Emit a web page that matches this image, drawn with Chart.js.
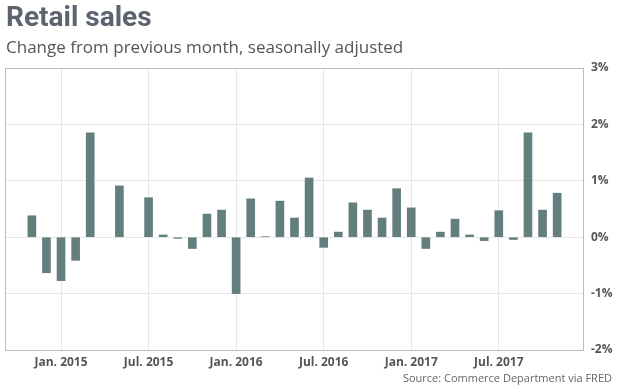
<!DOCTYPE html>
<html>
<head>
<meta charset="utf-8">
<script src="https://cdn.jsdelivr.net/npm/chart.js"></script>
<style>
  body { margin: 0; background: #fff; }
  #wrap { position: relative; width: 618px; height: 387px; overflow: hidden; }
  #chart { position: absolute; left: 0; top: 0; }
  .txt { position: absolute; white-space: nowrap; }
  #title { left: 6px; top: 0px; font: bold 28px Roboto, sans-serif; color: #5d6470; }
  #subtitle { left: 6px; top: 35px; font: 17px 'Open Sans', sans-serif; color: #555; }
  #source { right: 6px; top: 370px; font: 11px 'Open Sans', sans-serif; color: #666; }
</style>
</head>
<body>
<div id="wrap">
  <canvas id="chart" width="618" height="387"></canvas>
  <div class="txt" id="title">Retail sales</div>
  <div class="txt" id="subtitle">Change from previous month, seasonally adjusted</div>
  <div class="txt" id="source">Source: Commerce Department via FRED</div>
</div>
<script>
// mois (année-mois) et variation mensuelle en % (null = pas de barre visible)
const months = [
  '2014-11', '2014-12',
  '2015-01', '2015-02', '2015-03', '2015-04', '2015-05', '2015-06',
  '2015-07', '2015-08', '2015-09', '2015-10', '2015-11', '2015-12',
  '2016-01', '2016-02', '2016-03', '2016-04', '2016-05', '2016-06',
  '2016-07', '2016-08', '2016-09', '2016-10', '2016-11', '2016-12',
  '2017-01', '2017-02', '2017-03', '2017-04', '2017-05', '2017-06',
  '2017-07', '2017-08', '2017-09', '2017-10', '2017-11'
];
const changes = [
  0.38, -0.63,
  -0.77, -0.41, 1.85, null, 0.91, null,
  0.70, 0.04, -0.02, -0.20, 0.41, 0.48,
  -1.00, 0.68, 0.01, 0.64, 0.34, 1.05,
  -0.18, 0.09, 0.61, 0.48, 0.34, 0.86,
  0.52, -0.20, 0.09, 0.32, 0.04, -0.06,
  0.47, -0.04, 1.85, 0.48, 0.78
];
const xTickMonths = ['2015-01', '2015-07', '2016-01', '2016-07', '2017-01', '2017-07'];
const xTickLabels = ['Jan. 2015', 'Jul. 2015', 'Jan. 2016', 'Jul. 2016', 'Jan. 2017', 'Jul. 2017'];
const yTicks = [-2, -1, 0, 1, 2, 3];

// index du mois, janvier 2015 = 0
function monthIndex(s) {
  const [y, m] = s.split('-').map(Number);
  return (y - 2015) * 12 + (m - 1);
}
const xTickIdx = xTickMonths.map(monthIndex);

// cadre gris autour de la zone du graphique
const frame = {
  id: 'frame',
  afterDraw(chart) {
    const a = chart.chartArea, ctx = chart.ctx;
    ctx.save();
    ctx.strokeStyle = '#bcbcbc';
    ctx.lineWidth = 1;
    ctx.strokeRect(Math.round(a.left) + 0.5, Math.round(a.top) + 0.5,
      Math.round(a.right - a.left) - 1, Math.round(a.bottom - a.top));
    ctx.restore();
  }
};

const tickFont = { family: "'Open Sans', sans-serif", size: 12, weight: 'bold' };

new Chart(document.getElementById('chart'), {
  type: 'bar',
  data: {
    datasets: [{
      data: months.map((m, i) => ({ x: monthIndex(m), y: changes[i] })),
      backgroundColor: '#627f7e',
      barThickness: 8
    }]
  },
  options: {
    responsive: false,
    animation: false,
    layout: { padding: { top: 68, left: 5, right: 0, bottom: 0 } },
    plugins: { legend: { display: false }, tooltip: { enabled: false } },
    scales: {
      x: {
        type: 'linear',
        offset: false,
        min: -3.84,
        max: 35.84,
        afterBuildTicks: s => { s.ticks = xTickIdx.map(v => ({ value: v })); },
        afterFit: s => { s.height = 37; },
        grid: { color: '#e6e6e6', drawTicks: false, offset: false },
        border: { display: false },
        ticks: {
          padding: 5,
          color: '#555',
          font: tickFont,
          callback: v => xTickLabels[xTickIdx.indexOf(v)]
        }
      },
      y: {
        position: 'right',
        min: yTicks[0],
        max: yTicks[yTicks.length - 1],
        afterBuildTicks: s => { s.ticks = yTicks.map(v => ({ value: v })); },
        afterFit: s => { s.width = 34; },
        grid: { color: '#e6e6e6', drawTicks: false },
        border: { display: false },
        ticks: {
          padding: 7,
          color: '#555',
          font: tickFont,
          callback: v => v + '%'
        }
      }
    }
  },
  plugins: [frame]
});
</script>
</body>
</html>
